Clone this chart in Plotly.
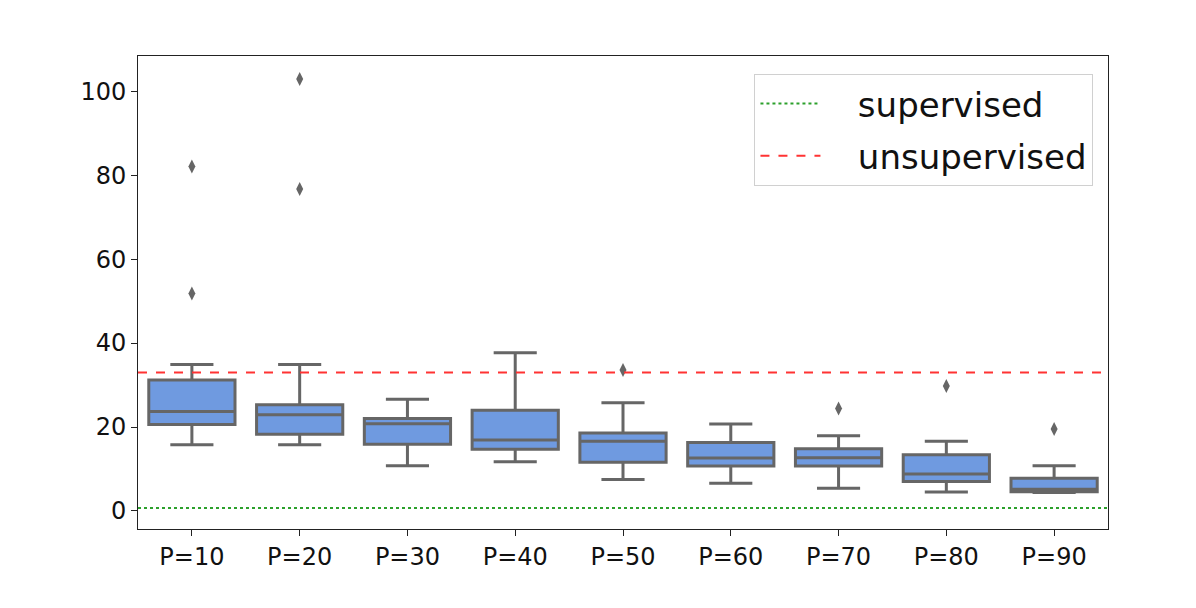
import plotly.graph_objects as go

# box statistics
labels = ["P=10", "P=20", "P=30", "P=40", "P=50", "P=60", "P=70", "P=80", "P=90"]
lower_whisker = [15.8, 15.8, 10.8, 11.7, 7.5, 6.6, 5.4, 4.5, 4.4]
q1 = [20.6, 18.3, 15.9, 14.7, 11.6, 10.7, 10.7, 7.0, 4.6]
median = [23.7, 22.9, 20.8, 16.9, 16.6, 12.6, 12.7, 8.8, 5.2]
q3 = [31.2, 25.3, 22.0, 24.0, 18.6, 16.3, 14.8, 13.4, 7.8]
upper_whisker = [34.9, 34.9, 26.6, 37.7, 25.8, 20.7, 17.9, 16.6, 10.8]

# outliers (category index, value)
outlier_idx = [0, 0, 1, 1, 4, 6, 7, 8]
outlier_val = [82.1, 51.8, 102.9, 76.7, 33.6, 24.4, 29.8, 19.5]

supervised = 0.7
unsupervised = 33.0

pos = list(range(len(labels)))
line_grey = "#666666"
pad = "\u00a0" * 3

fig = go.Figure()

fig.add_trace(go.Box(
    x=pos, q1=q1, median=median, q3=q3,
    lowerfence=lower_whisker, upperfence=upper_whisker,
    width=0.8, whiskerwidth=0.5,
    fillcolor="#6f9ae0", line=dict(color=line_grey, width=3),
    boxpoints=False, showlegend=False, hoverinfo="y",
))

fig.add_trace(go.Scatter(
    x=outlier_idx, y=outlier_val, mode="markers",
    marker=dict(symbol="diamond-tall", size=10, color=line_grey),
    showlegend=False,
))

fig.add_trace(go.Scatter(
    x=[-0.5, len(labels) - 0.5], y=[supervised, supervised], mode="lines",
    line=dict(color="#2ca02c", width=2, dash="dot"), name=pad + "supervised",
    legendgroup="sup",
))
fig.add_trace(go.Scatter(
    x=[-0.5, len(labels) - 0.5], y=[unsupervised, unsupervised], mode="lines",
    line=dict(color="#ff3333", width=2, dash="dash"), name=pad + "unsupervised",
    legendgroup="unsup",
))

# the page body adds an 8px offset, so margins are shifted by that amount
fig.update_layout(
    width=1196, height=608,
    margin=dict(l=130, r=96, t=48, b=87),
    paper_bgcolor="white", plot_bgcolor="white",
    font=dict(family="DejaVu Sans", size=24, color="#111111"),
    legend=dict(
        x=0.985, y=0.962, xanchor="right", yanchor="top",
        bgcolor="white", bordercolor="#d0d0d0", borderwidth=1,
        font=dict(size=34), itemwidth=60, tracegroupgap=5,
    ),
)
fig.update_xaxes(
    range=[-0.5, len(labels) - 0.5], tickvals=pos, ticktext=labels,
    showgrid=False, zeroline=False, showline=True, linecolor="#222222",
    linewidth=1, mirror=True, ticks="outside", ticklen=6, tickcolor="#222222",
)
fig.update_yaxes(
    range=[-4.3, 108.4], tickvals=[0, 20, 40, 60, 80, 100],
    showgrid=False, zeroline=False, showline=True, linecolor="#222222",
    linewidth=1, mirror=True, ticks="outside", ticklen=6, tickcolor="#222222",
)

fig.write_html("out.html")
